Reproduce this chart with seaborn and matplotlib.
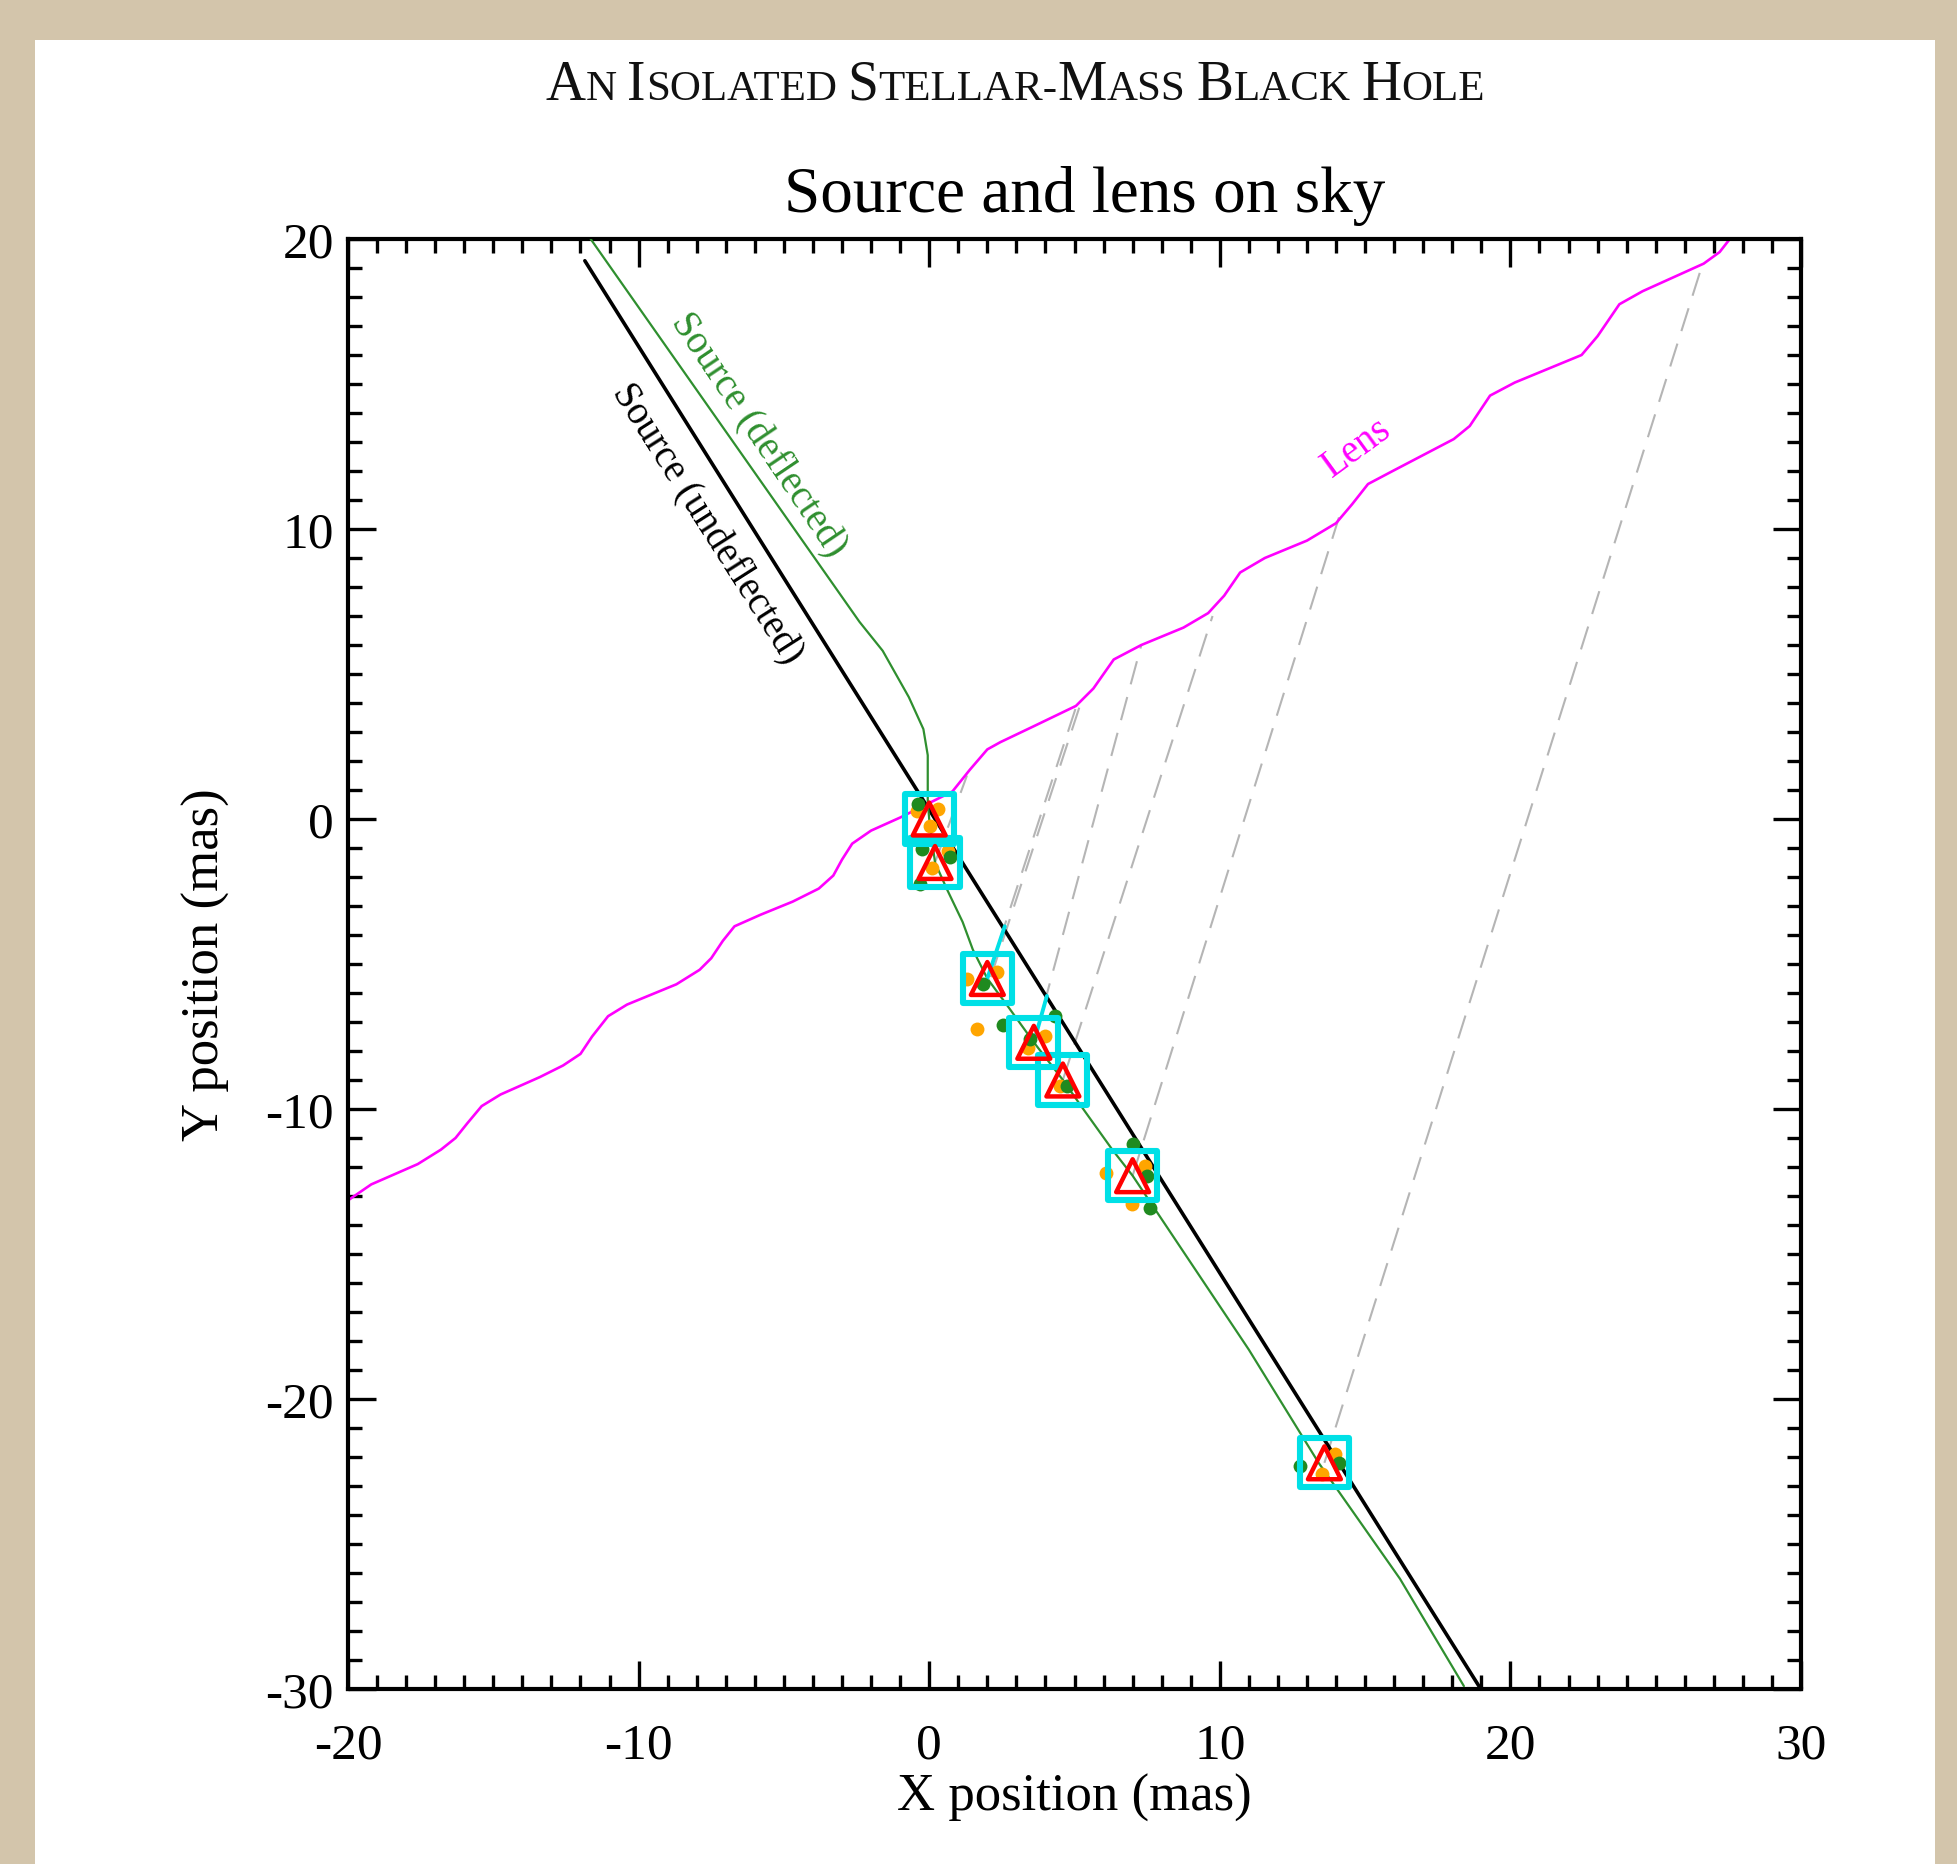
import matplotlib
matplotlib.use("Agg")
import matplotlib.pyplot as plt
import seaborn as sns
from matplotlib.patches import Rectangle
from matplotlib.ticker import MultipleLocator

# undeflected source track
undef_x = [-11.85, 18.98]
undef_y = [19.25, -30.0]

# deflected source track
defl_x = [-11.65, -2.4, -1.6, -0.7, -0.2, -0.05, -0.05, 0.0, 0.2, 0.6, 1.15, 1.5, 2.0,
          2.7, 3.6, 4.6, 5.3, 6.3, 7.0, 11.0, 13.4, 16.2, 18.4]
defl_y = [20.0, 6.8, 5.8, 4.2, 3.1, 2.2, 0.6, 0.0, -1.5, -2.4, -3.55, -4.5, -5.5,
          -6.45, -7.7, -9.0, -10.0, -11.4, -12.3, -18.3, -22.2, -26.2, -29.9]

# lens track
lens_x = [-20.0, -19.2, -17.6, -16.8, -16.3, -15.9, -15.4, -14.75, -13.4, -12.6, -12.0,
          -11.6, -11.05, -10.4, -8.7, -7.9, -7.5, -7.1, -6.7, -5.8, -4.7, -3.8, -3.3,
          -3.0, -2.65, -2.0, -1.0, 0.8, 1.4, 2.0, 2.45, 3.6, 5.05, 5.65, 6.35, 7.3, 8.75,
          9.6, 10.15, 10.7, 11.55, 13.0, 14.0, 14.55, 15.1, 15.95, 18.05, 18.6, 19.3,
          20.15, 22.45, 23.0, 23.75, 24.55, 26.65, 27.2, 27.55]
lens_y = [-13.15, -12.6, -11.9, -11.4, -11.0, -10.5, -9.9, -9.5, -8.9, -8.5, -8.1,
          -7.5, -6.8, -6.4, -5.7, -5.2, -4.8, -4.2, -3.7, -3.3, -2.85, -2.4, -1.95,
          -1.4, -0.85, -0.4, 0.05, 0.95, 1.7, 2.4, 2.65, 3.2, 3.9, 4.5, 5.5, 6.0, 6.6,
          7.1, 7.7, 8.5, 9.0, 9.6, 10.2, 10.85, 11.55, 12.0, 13.1, 13.55, 14.6,
          15.05, 16.0, 16.65, 17.75, 18.2, 19.15, 19.55, 20.0]

# epochs: observed source position and lens position at that time
obs_x = [0.0, 0.2, 2.0, 3.6, 4.6, 7.0, 13.6]
obs_y = [0.0, -1.5, -5.5, -7.7, -9.0, -12.3, -22.2]

link_src_x = [0.2, 2.0, 2.12, 3.6, 4.6, 7.0, 13.6]
link_src_y = [-1.5, -5.5, -5.45, -7.7, -9.0, -12.3, -22.2]
link_lens_x = [1.3, 5.05, 5.2, 7.3, 9.75, 14.1, 26.6]
link_lens_y = [1.5, 3.85, 3.95, 6.0, 7.0, 10.4, 19.1]

# short offset vectors
tail_x0 = [2.0, 3.6]
tail_y0 = [-5.5, -7.7]
tail_x1 = [2.6, 4.05]
tail_y1 = [-3.7, -6.1]

# individual measurements
orange_x = [-0.42, 0.3, 0.03, 0.65, 0.1, 2.33, 1.3, 1.64, 3.98, 3.4, 4.5, 7.43, 6.1, 6.98, 13.96, 13.5]
orange_y = [0.28, 0.34, -0.24, -1.1, -1.7, -5.28, -5.5, -7.24, -7.48, -7.9, -9.2, -11.97, -12.2, -13.28, -21.9, -22.6]
green_x = [-0.38, -0.25, 0.72, -0.32, 1.85, 2.54, 4.33, 3.47, 4.74, 7.0, 7.6, 7.5, 12.76, 14.1]
green_y = [0.52, -1.03, -1.3, -2.24, -5.7, -7.1, -6.8, -7.6, -9.2, -11.2, -13.4, -12.3, -22.3, -22.2]

W, H, DPI = 1957, 1865, 100

sns.set_theme(style="ticks")
plt.rcParams["font.family"] = ["Liberation Serif", "DejaVu Serif"]
plt.rcParams["axes.unicode_minus"] = False

fig = plt.figure(figsize=(W / DPI, H / DPI), dpi=DPI)
fig.patch.set_facecolor("#d3c5ab")
fig.add_artist(Rectangle((35 / W, 0), 1900 / W, 1824 / H, transform=fig.transFigure,
                         facecolor="white", edgecolor="none", zorder=-10))

ax = fig.add_axes([348 / W, 1 - 1690 / H, 1453 / W, 1450 / H])
ax.set_facecolor("white")

green_line = "#2f8f2f"

sns.lineplot(x=lens_x, y=lens_y, sort=False, estimator=None, color="#ff00ff",
             linewidth=1.9, solid_joinstyle="round", ax=ax, zorder=2)
for sx, sy, lx, ly in zip(link_src_x, link_src_y, link_lens_x, link_lens_y):
    sns.lineplot(x=[sx, lx], y=[sy, ly], sort=False, estimator=None, color="#b5b5b5",
                 linewidth=1.5, linestyle=(0, (11.5, 6.3)), ax=ax, zorder=1)
sns.lineplot(x=undef_x, y=undef_y, sort=False, estimator=None, color="black",
             linewidth=2.6, ax=ax, zorder=3)
sns.lineplot(x=defl_x, y=defl_y, sort=False, estimator=None, color=green_line,
             linewidth=1.6, solid_joinstyle="round", ax=ax, zorder=3)
for x0, y0, x1, y1 in zip(tail_x0, tail_y0, tail_x1, tail_y1):
    sns.lineplot(x=[x0, x1], y=[y0, y1], sort=False, estimator=None, color="#00e0e6",
                 linewidth=2.8, ax=ax, zorder=4)

sns.scatterplot(x=orange_x, y=orange_y, color="#ffa500", s=100, linewidth=0, ax=ax, zorder=5)
sns.scatterplot(x=green_x, y=green_y, color="#1f8a1f", s=100, linewidth=0, ax=ax, zorder=5)
sns.scatterplot(x=obs_x, y=obs_y, marker="s", s=1250, facecolor="none",
                edgecolor="#00e0e6", linewidth=4.4, ax=ax, zorder=6)
sns.scatterplot(x=obs_x, y=obs_y, marker="^", s=560, facecolor="none",
                edgecolor="#ff0000", linewidth=3.2, ax=ax, zorder=7)

ax.text(-5.9, 13.25, "Source (deflected)", color=green_line, fontsize=28, rotation=-56,
        rotation_mode="anchor", ha="center", va="center")
ax.text(-7.65, 10.2, "Source (undeflected)", color="black", fontsize=28, rotation=-57.5,
        rotation_mode="anchor", ha="center", va="center")
ax.text(14.72, 12.83, "Lens", color="#ff00ff", fontsize=28, rotation=36,
        rotation_mode="anchor", ha="center", va="center")

ax.set_xlim(-20, 30)
ax.set_ylim(-30, 20)
ax.xaxis.set_major_locator(MultipleLocator(10))
ax.yaxis.set_major_locator(MultipleLocator(10))
ax.xaxis.set_minor_locator(MultipleLocator(1))
ax.yaxis.set_minor_locator(MultipleLocator(1))
ax.tick_params(which="both", direction="in", top=True, right=True, color="black",
               width=2.4, labelsize=37, labelcolor="black")
ax.tick_params(which="major", length=20)
ax.tick_params(which="minor", length=10)
ax.tick_params(axis="x", pad=24)
ax.tick_params(axis="y", pad=10)
for sp in ax.spines.values():
    sp.set_linewidth(3.0)
    sp.set_color("black")

ax.set_xlabel("X position (mas)", fontsize=38, color="black")
ax.set_ylabel("Y position (mas)", fontsize=38, color="black")
ax.xaxis.set_label_coords(0.5, -0.058)
ax.yaxis.set_label_coords(-0.081, 0.5)
ax.set_title("Source and lens on sky", fontsize=47, color="black", x=0.507, pad=20)


def small_caps(fig, text, xc, yb, big, small):
    # draw text in small caps, centred at xc (px), baseline at yb (px from top)
    renderer = fig.canvas.get_renderer()
    runs = []
    for wi, word in enumerate(text.split(" ")):
        if wi > 0:
            runs.append((" ", None))
        cur, cur_size = "", None
        for ch in word:
            size = big if ch.isupper() else small
            if size != cur_size and cur:
                runs.append((cur, cur_size))
                cur = ""
            cur += ch.upper()
            cur_size = size
        runs.append((cur, cur_size))
    space = 0.25 * small * DPI / 72
    items, widths = [], []
    for s, size in runs:
        if size is None:
            items.append(None)
            widths.append(space)
            continue
        t = fig.text(0, 1 - yb / H, s, fontsize=size, va="baseline", ha="left", color="#111111")
        items.append(t)
        widths.append(t.get_window_extent(renderer).width)
    x = xc - sum(widths) / 2
    for t, w in zip(items, widths):
        if t is not None:
            t.set_x(x / W)
        x += w


fig.canvas.draw()
small_caps(fig, "An Isolated Stellar-Mass Black Hole", 1015, 100, 40, 31)

fig.savefig("out.png", dpi=DPI, facecolor=fig.get_facecolor())
